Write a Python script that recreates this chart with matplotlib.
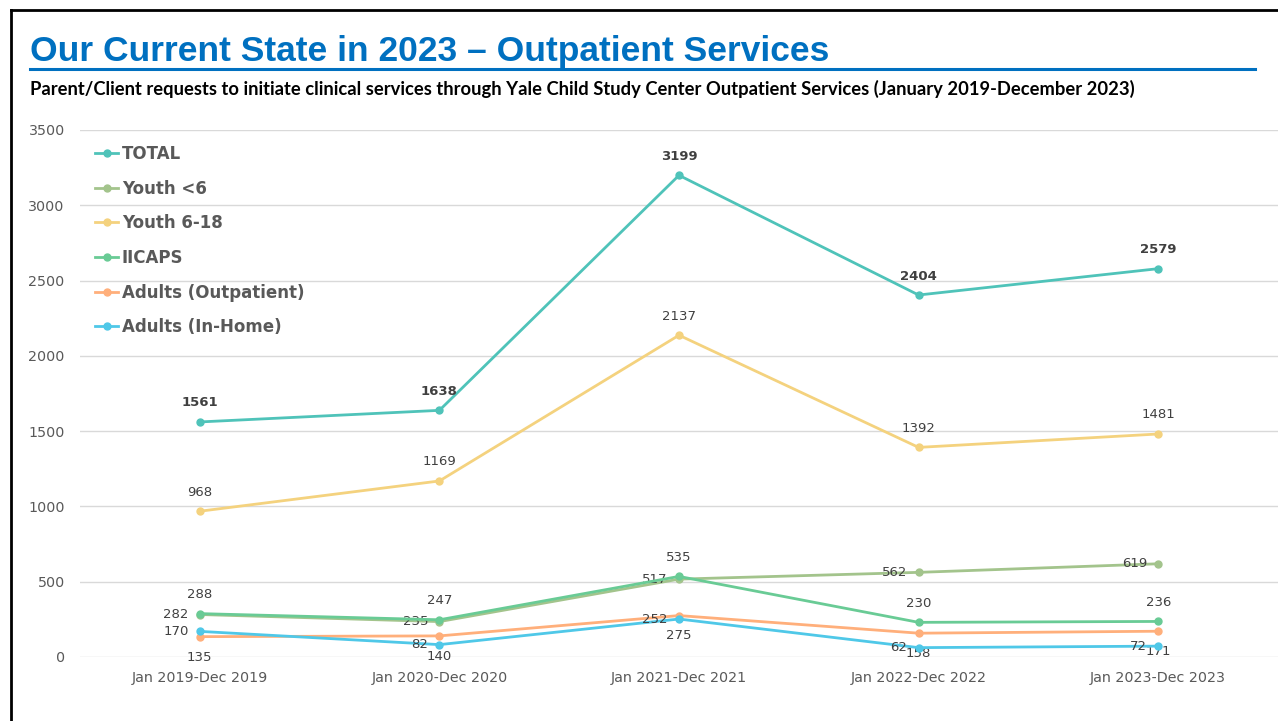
import matplotlib.pyplot as plt
from matplotlib.lines import Line2D

# Daten
periods = ["Jan 2019-Dec 2019", "Jan 2020-Dec 2020", "Jan 2021-Dec 2021",
           "Jan 2022-Dec 2022", "Jan 2023-Dec 2023"]
total = [1561, 1638, 3199, 2404, 2579]
youth_u6 = [282, 235, 517, 562, 619]
youth_6_18 = [968, 1169, 2137, 1392, 1481]
iicaps = [288, 247, 535, 230, 236]
adults_out = [135, 140, 275, 158, 171]
adults_home = [170, 82, 252, 62, 72]

# (name, values, color, label position, bold)
series = [
    ("TOTAL", total, "#4fc3b9", "above", True),
    ("Youth <6", youth_u6, "#a3c48c", "left", False),
    ("Youth 6-18", youth_6_18, "#f4d27e", "above", False),
    ("IICAPS", iicaps, "#69cb95", "above", False),
    ("Adults (Outpatient)", adults_out, "#ffaf7b", "below", False),
    ("Adults (In-Home)", adults_home, "#4fc8e8", "left", False),
]

fig = plt.figure(figsize=(12.78, 7.21), dpi=100)
ax = fig.add_axes([0.0626, 0.0888, 0.9374, 0.7309])

x = list(range(len(periods)))
for name, vals, col, pos, bold in series:
    ax.plot(x, vals, color=col, lw=2.0, marker="o", ms=5, label=name, zorder=3)
    for xi, v in zip(x, vals):
        if pos == "above":
            off, ha, va = (0, 9), "center", "bottom"
        elif pos == "below":
            off, ha, va = (0, -10), "center", "top"
        else:
            off, ha, va = (-8, 0), "right", "center"
        ax.annotate(str(v), (xi, v), xytext=off, textcoords="offset points",
                    ha=ha, va=va, fontsize=9.5, color="#404040",
                    fontweight="bold" if bold else "normal")

ax.set_xlim(-0.5, 4.5)
ax.set_ylim(0, 3500)
ax.set_yticks(range(0, 3501, 500))
ax.set_xticks(x)
ax.set_xticklabels(periods)
ax.grid(axis="y", color="#d9d9d9", lw=1)
ax.set_axisbelow(True)
for s in ax.spines.values():
    s.set_visible(False)
ax.tick_params(length=0, labelsize=10.3, labelcolor="#595959")
ax.tick_params(axis="y", pad=11)
ax.tick_params(axis="x", pad=10)

handles = [Line2D([], [], color=c, lw=2.0, marker="o", ms=5) for _, _, c, _, _ in series]
leg = ax.legend(handles, [s[0] for s in series], loc="upper left",
                bbox_to_anchor=(0.0, 1.0), frameon=False, handlelength=1.4,
                handletextpad=0.2, labelspacing=1.0,
                prop={"size": 12, "weight": "bold"})
for t in leg.get_texts():
    t.set_color("#595959")

# Titel
fig.text(30 / 1278, 1 - 52 / 721, "Our Current State in 2023 \u2013 Outpatient Services",
         fontsize=25.5, fontweight="bold", color="#0070c0", family="Liberation Sans",
         va="center", ha="left")
fig.add_artist(Line2D([30 / 1278, 1255 / 1278], [1 - 69 / 721, 1 - 69 / 721],
                      color="#0070c0", lw=2.2))
fig.text(30 / 1278, 1 - 89 / 721,
         "Parent/Client requests to initiate clinical services through Yale Child Study Center "
         "Outpatient Services (January 2019-December 2023)",
         fontsize=13.2, fontweight="bold", color="black", family="Lato",
         va="center", ha="left")

# Rahmen
fig.add_artist(Line2D([11 / 1278, 11 / 1278], [0, 1 - 10 / 721], color="black", lw=2))
fig.add_artist(Line2D([11 / 1278, 1], [1 - 10 / 721, 1 - 10 / 721], color="black", lw=2))

fig.savefig("out.png", dpi=100)
